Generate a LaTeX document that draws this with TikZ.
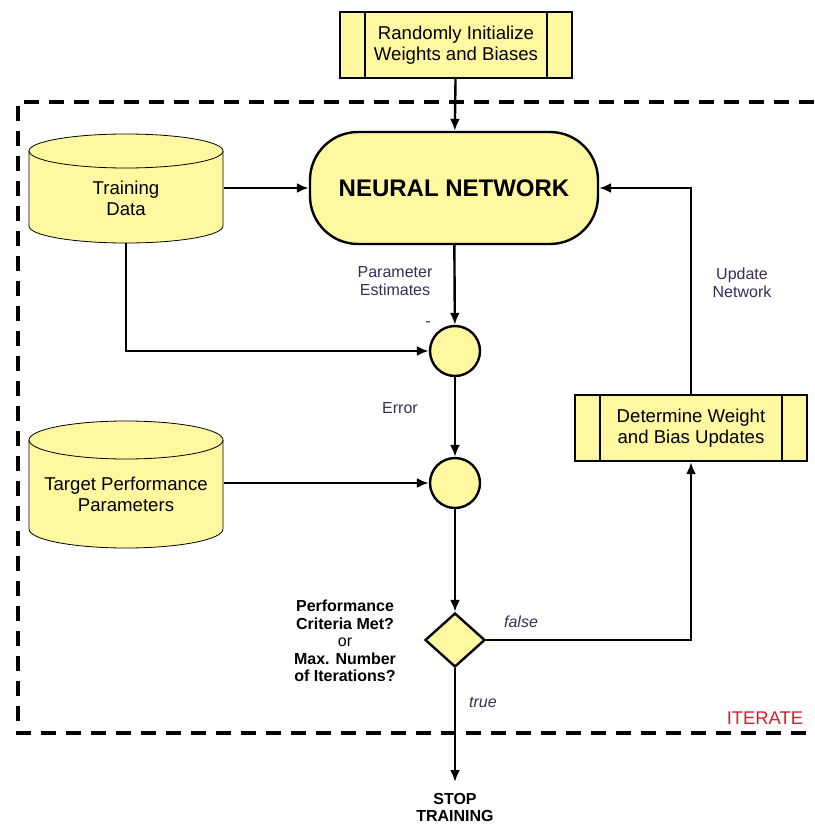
\documentclass[tikz,border=0pt]{standalone}
\usepackage{fontspec}
\setmainfont{Liberation Sans}
\usetikzlibrary{shapes.geometric, arrows.meta, positioning, calc, backgrounds}
\definecolor{boxfill}{RGB}{255, 248, 160}
\definecolor{labelink}{RGB}{55, 45, 85}
\definecolor{iterred}{RGB}{215, 30, 45}
\tikzstyle{process} = [rectangle, draw, fill=boxfill, minimum width=116pt, minimum height=33pt, align=center, font=\fontsize{9.3}{10.5}\selectfont]
\tikzstyle{network} = [rectangle, rounded corners=24pt, draw, fill=boxfill, minimum width=144pt, minimum height=56pt, font=\bfseries\fontsize{12}{14}\selectfont]
\tikzstyle{database} = [rectangle, minimum width=97pt, inner sep=0pt, align=center, font=\fontsize{9.3}{10.5}\selectfont]
\tikzstyle{junction} = [circle, draw, fill=boxfill, minimum size=25pt, inner sep=0pt]
\tikzstyle{decision} = [diamond, draw, fill=boxfill, minimum width=30pt, minimum height=27pt, inner sep=0pt]
\tikzstyle{note} = [text=labelink, align=center, font=\fontsize{8}{9}\selectfont]
\tikzstyle{arrow} = [-{Latex[length=6pt,width=5pt]}]

\begin{document}
\begin{tikzpicture}[x=0.5pt, y=-0.5pt, line width=1.2pt]
    \useasboundingbox (0,0) rectangle (814,824);

    % Iteration boundary
    \draw[line width=1.6pt, dash pattern=on 7.5pt off 5pt] (814,102) -- (18,102) -- (18,733) -- (814,733);
    \node[text=iterred, anchor=east, font=\fontsize{9.2}{11}\selectfont] (iterate) at (811,718) {ITERATE};

    % Blocks
    \node[process] (init) at (456,45) {Randomly Initialize\\Weights and Biases};
    \node[network] (nn) at (454,188) {NEURAL NETWORK};
    \node[database] (trdata) at (126,198) {Training\\Data};
    \node[junction] (sum1) at (455,351) {};
    \node[database] (target) at (126,494) {Target Performance\\Parameters};
    \node[junction] (sum2) at (455,483) {};
    \node[decision] (check) at (455,640) {};
    \node[process] (update) at (691,428) {Determine Weight\\and Bias Updates};
    \node[font=\bfseries\fontsize{8}{8.6}\selectfont, align=center, anchor=north, inner sep=0pt] (stop) at (455,792) {STOP\\TRAINING};

    % Side bars of the predefined processes
    \foreach \n in {init, update} {
        \draw ([xshift=13pt]\n.north west) -- ([xshift=13pt]\n.south west);
        \draw ([xshift=-13pt]\n.north east) -- ([xshift=-13pt]\n.south east);
    }

    % Cylinders behind the data stores (top offset / bottom offset / rim radius)
    \begin{scope}[on background layer]
    \foreach \n/\up/\dn/\ry in {trdata/47/28/17, target/54/35/19} {
        \draw[fill=boxfill] ($(\n)+(-97,-\up)$) -- ($(\n)+(-97,\dn)$)
            arc[start angle=180, end angle=360, x radius=48.5pt, y radius=0.5*\ry pt]
            -- ($(\n)+(97,-\up)$)
            arc[start angle=0, end angle=180, x radius=48.5pt, y radius=0.5*\ry pt] -- cycle;
        \draw ($(\n)+(-97,-\up)$) arc[start angle=180, end angle=360, x radius=48.5pt, y radius=0.5*\ry pt];
        \coordinate (\n-base) at ($(\n)+(0,\dn+\ry)$);
    }
    \end{scope}

    % Connectors
    \draw[arrow] (init) -- (nn);
    \draw[arrow] (trdata.east |- nn.west) -- (nn.west);
    \draw[arrow] (trdata-base) |- (sum1.west);
    \draw[arrow] (nn) -- (sum1);
    \draw[arrow] (sum1) -- (sum2);
    \draw[arrow] (target.east |- sum2.west) -- (sum2.west);
    \draw[arrow] (sum2) -- (check);
    \draw[arrow] (check.east) -| (update.south);
    \draw[arrow] (update.north) |- (nn.east);
    \draw[arrow, shorten >=5pt] (check.south) -- (stop.north);

    % Labels
    \node[note] (estlbl) at (395,281) {Parameter\\Estimates};
    \node[note] (minus) at (428,324) {-};
    \node[note] (errlbl) at (400,408) {Error};
    \node[note] (updlbl) at (742,283) {Update\\Network};
    \node[note, font=\itshape\fontsize{8}{9}\selectfont] (falselbl) at (521,622) {false};
    \node[note, font=\itshape\fontsize{8}{9}\selectfont] (truelbl) at (483,702) {true};
    \node[align=center, font=\bfseries\fontsize{8}{8.8}\selectfont] (critlbl) at (345,641)
        {Performance\\Criteria Met?\\{\mdseries or}\\Max. Number\\of Iterations?};
\end{tikzpicture}
\end{document}
